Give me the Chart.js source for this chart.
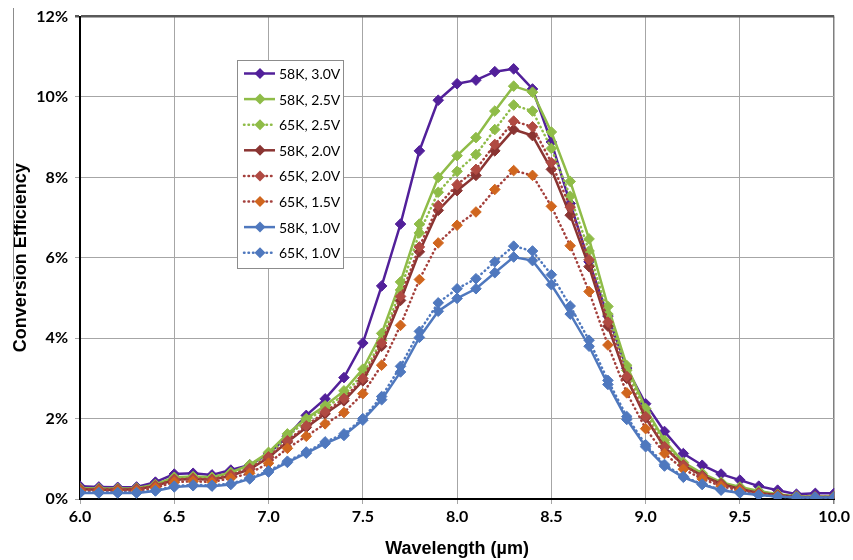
<!DOCTYPE html>
<html>
<head>
<meta charset="utf-8">
<script src="https://cdn.jsdelivr.net/npm/chart.js@4.4.1/dist/chart.umd.min.js"></script>
<style>
  body { margin: 0; background: #fff; }
  #wrap { width: 853px; height: 560px; }
</style>
</head>
<body>
<div id="wrap"><canvas id="chart" width="853" height="560"></canvas></div>
<script>
// wavelength, um
const wavelength = [6.0, 6.1, 6.2, 6.3, 6.4, 6.5, 6.6, 6.7, 6.8, 6.9,
  7.0, 7.1, 7.2, 7.3, 7.4, 7.5, 7.6, 7.7, 7.8, 7.9,
  8.0, 8.1, 8.2, 8.3, 8.4, 8.5, 8.6, 8.7, 8.8, 8.9,
  9.0, 9.1, 9.2, 9.3, 9.4, 9.5, 9.6, 9.7, 9.8, 9.9, 10.0];

// conversion efficiency in %
const k58v30 = [0.32, 0.30, 0.29, 0.30, 0.42, 0.62, 0.64, 0.60, 0.72, 0.85,
  1.12, 1.56, 2.08, 2.49, 3.02, 3.88, 5.30, 6.84, 8.66, 9.92,
  10.33, 10.42, 10.63, 10.70, 10.20, 8.88, 7.35, 5.90, 4.55, 3.25,
  2.37, 1.68, 1.13, 0.84, 0.62, 0.47, 0.32, 0.22, 0.12, 0.14, 0.14];
const k58v25 = [0.27, 0.26, 0.26, 0.27, 0.36, 0.54, 0.56, 0.54, 0.66, 0.85,
  1.16, 1.62, 2.00, 2.32, 2.69, 3.23, 4.12, 5.40, 6.84, 8.00,
  8.54, 8.99, 9.65, 10.27, 10.12, 9.13, 7.90, 6.47, 4.79, 3.32,
  2.25, 1.46, 0.91, 0.64, 0.42, 0.30, 0.20, 0.12, 0.07, 0.06, 0.06];
const k65v25 = [0.25, 0.24, 0.24, 0.25, 0.34, 0.50, 0.52, 0.50, 0.62, 0.80,
  1.10, 1.55, 1.95, 2.25, 2.60, 3.10, 3.95, 5.20, 6.62, 7.63,
  8.15, 8.57, 9.19, 9.80, 9.65, 8.72, 7.53, 6.17, 4.60, 3.20,
  2.15, 1.40, 0.87, 0.60, 0.40, 0.28, 0.18, 0.11, 0.06, 0.05, 0.05];
const k58v20 = [0.24, 0.23, 0.23, 0.24, 0.32, 0.48, 0.50, 0.48, 0.58, 0.74,
  1.03, 1.42, 1.78, 2.12, 2.44, 2.94, 3.80, 4.94, 6.15, 7.18,
  7.67, 8.05, 8.66, 9.19, 9.04, 8.20, 7.06, 5.78, 4.30, 3.00,
  2.02, 1.29, 0.84, 0.58, 0.38, 0.25, 0.15, 0.10, 0.05, 0.05, 0.05];
const k65v20 = [0.25, 0.24, 0.24, 0.25, 0.33, 0.49, 0.51, 0.49, 0.60, 0.76,
  1.05, 1.45, 1.82, 2.17, 2.50, 3.00, 3.88, 5.04, 6.27, 7.30,
  7.82, 8.20, 8.82, 9.40, 9.26, 8.37, 7.26, 5.95, 4.40, 3.05,
  2.05, 1.30, 0.84, 0.56, 0.36, 0.24, 0.14, 0.09, 0.05, 0.05, 0.05];
const k65v15 = [0.20, 0.20, 0.20, 0.20, 0.28, 0.42, 0.44, 0.42, 0.52, 0.64,
  0.89, 1.26, 1.56, 1.87, 2.15, 2.62, 3.33, 4.32, 5.46, 6.37,
  6.81, 7.14, 7.70, 8.17, 8.05, 7.28, 6.30, 5.16, 3.83, 2.64,
  1.75, 1.13, 0.74, 0.50, 0.32, 0.21, 0.12, 0.08, 0.04, 0.04, 0.04];
const k58v10 = [0.15, 0.15, 0.15, 0.15, 0.20, 0.30, 0.33, 0.32, 0.36, 0.50,
  0.67, 0.91, 1.14, 1.38, 1.58, 1.96, 2.47, 3.16, 4.02, 4.67,
  4.99, 5.23, 5.63, 6.02, 5.93, 5.33, 4.60, 3.80, 2.85, 1.98,
  1.30, 0.82, 0.54, 0.36, 0.22, 0.15, 0.10, 0.06, 0.04, 0.04, 0.04];
const k65v10 = [0.16, 0.16, 0.16, 0.16, 0.21, 0.32, 0.35, 0.34, 0.38, 0.52,
  0.70, 0.94, 1.17, 1.42, 1.62, 2.00, 2.55, 3.30, 4.17, 4.88,
  5.23, 5.48, 5.90, 6.29, 6.17, 5.58, 4.80, 3.95, 2.95, 2.05,
  1.35, 0.86, 0.56, 0.37, 0.23, 0.16, 0.10, 0.06, 0.04, 0.04, 0.04];

const seriesNames = ['58K, 3.0V', '58K, 2.5V', '65K, 2.5V', '58K, 2.0V',
  '65K, 2.0V', '65K, 1.5V', '58K, 1.0V', '65K, 1.0V'];
const seriesValues = [k58v30, k58v25, k65v25, k58v20, k65v20, k65v15, k58v10, k65v10];
const lineColors = ['#52209a', '#8fbc48', '#8fbc48', '#8a3432', '#a4403c', '#a4403c', '#4f78be', '#4f78be'];
const markerColors = ['#52209a', '#8fbc48', '#8fbc48', '#8a3432', '#b04a42', '#d0661e', '#4f78be', '#4f78be'];
const dotted = [false, false, true, false, true, true, false, true];
const yTicks = [0, 2, 4, 6, 8, 10, 12];

const FONT = 'Lato, "Open Sans", sans-serif';
const TITLE_FONT = '"Liberation Sans", Arial, sans-serif';

const datasets = seriesNames.map(function (name, i) {
  return {
    label: name,
    data: wavelength.map(function (x, j) { return { x: x, y: seriesValues[i][j] }; }),
    borderColor: lineColors[i],
    backgroundColor: markerColors[i],
    pointBackgroundColor: markerColors[i],
    pointBorderColor: markerColors[i],
    borderWidth: 2.5,
    borderDash: dotted[i] ? [0.5, 4] : [],
    borderCapStyle: dotted[i] ? 'round' : 'butt',
    pointStyle: 'rectRot',
    pointRadius: 5.3,
    pointBorderWidth: 1,
    tension: 0,
    order: seriesNames.length - i // later series drawn on top, like Excel
  };
});

// legend box drawn on the canvas, floating over the plot
const boxLegend = {
  id: 'boxLegend',
  afterDraw: function (chart) {
    const ctx = chart.ctx;
    const left = 237, top = 60, w = 106, h = 208;
    ctx.save();
    // thin frame line at the far left of the original picture
    ctx.strokeStyle = '#8c8c8c';
    ctx.lineWidth = 1;
    ctx.beginPath();
    ctx.moveTo(13.5, 8);
    ctx.lineTo(13.5, 282);
    ctx.stroke();

    ctx.fillStyle = '#fff';
    ctx.fillRect(left, top, w, h);
    ctx.strokeRect(left + 0.5, top + 0.5, w, h);
    ctx.font = '14px ' + FONT;
    ctx.textBaseline = 'middle';
    seriesNames.forEach(function (name, i) {
      const y = 73.5 + i * 25.6;
      ctx.strokeStyle = lineColors[i];
      ctx.lineWidth = 2.5;
      if (dotted[i]) {
        ctx.setLineDash([0.5, 4]);
        ctx.lineCap = 'round';
      } else {
        ctx.setLineDash([]);
        ctx.lineCap = 'butt';
      }
      ctx.beginPath();
      ctx.moveTo(244, y);
      ctx.lineTo(275, y);
      ctx.stroke();
      ctx.setLineDash([]);
      ctx.fillStyle = markerColors[i];
      ctx.beginPath();
      ctx.moveTo(260, y - 5.5);
      ctx.lineTo(265.5, y);
      ctx.lineTo(260, y + 5.5);
      ctx.lineTo(254.5, y);
      ctx.closePath();
      ctx.fill();
      ctx.fillStyle = '#000';
      ctx.fillText(name, 279, y + 1);
    });
    ctx.restore();
  }
};

const chart = new Chart(document.getElementById('chart'), {
  type: 'line',
  data: { datasets: datasets },
  plugins: [boxLegend],
  options: {
    responsive: false,
    animation: false,
    layout: { padding: { left: 0, right: 17, top: 13, bottom: 0 } },
    plugins: {
      legend: { display: false },
      tooltip: { enabled: false }
    },
    scales: {
      x: {
        type: 'linear',
        min: 6,
        max: 10,
        afterFit: function (scale) { scale.height = 61; },
        ticks: {
          stepSize: 0.5,
          color: '#000',
          font: { family: FONT, size: 16, weight: 'bold' },
          padding: 3,
          callback: function (v) { return v.toFixed(1); }
        },
        grid: {
          color: function (c) { return c.tick && c.tick.value === 10 ? '#7f7f7f' : '#a6a6a6'; },
          lineWidth: function (c) { return c.tick && c.tick.value === 10 ? 1.5 : 1; },
          tickLength: 5
        },
        border: { color: '#000', width: 2 },
        title: {
          display: true,
          text: 'Wavelength (µm)',
          color: '#000',
          font: { family: TITLE_FONT, size: 18, weight: 'bold' },
          padding: { top: 0, bottom: 0 }
        }
      },
      y: {
        min: 0,
        max: 12,
        afterFit: function (scale) { scale.width = 80; },
        afterBuildTicks: function (scale) {
          scale.ticks = yTicks.map(function (v) { return { value: v }; });
        },
        ticks: {
          color: '#000',
          font: { family: FONT, size: 16, weight: 'bold' },
          padding: 7,
          callback: function (v) { return v + '%'; }
        },
        grid: {
          color: function (c) { return c.tick && c.tick.value === 12 ? '#595959' : '#a6a6a6'; },
          lineWidth: function (c) { return c.tick && c.tick.value === 12 ? 2.5 : 1; },
          tickLength: 5
        },
        border: { color: '#000', width: 2 },
        title: {
          display: true,
          text: 'Conversion Efficiency',
          color: '#000',
          font: { family: TITLE_FONT, size: 18, weight: 'bold' },
          padding: { top: 10, bottom: 0 }
        }
      }
    }
  }
});
</script>
</body>
</html>
